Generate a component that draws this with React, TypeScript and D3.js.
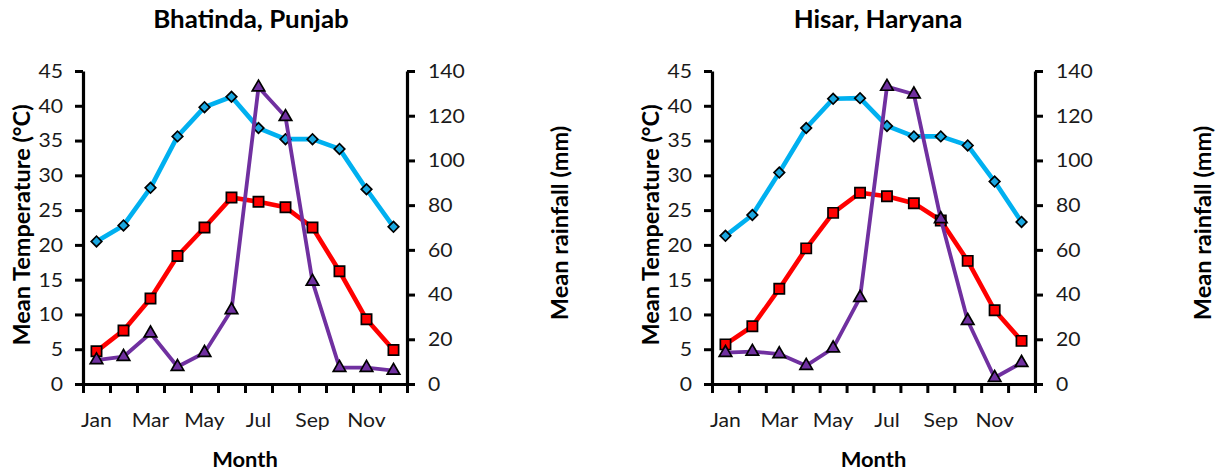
import React, { useEffect, useRef } from "react";
import * as d3 from "d3";

const months = ["Jan", "Feb", "Mar", "Apr", "May", "Jun", "Jul", "Aug", "Sep", "Oct", "Nov", "Dec"];
const tempTicks = [0, 5, 10, 15, 20, 25, 30, 35, 40, 45];
const rainTicks = [0, 20, 40, 60, 80, 100, 120, 140];

const bhatindaMax = [20.5, 22.8, 28.2, 35.6, 39.8, 41.3, 36.8, 35.2, 35.2, 33.8, 28.0, 22.6];
const bhatindaMin = [4.7, 7.7, 12.3, 18.4, 22.5, 26.8, 26.2, 25.4, 22.5, 16.2, 9.3, 4.9];
const bhatindaRain = [10.7, 12.2, 22.7, 7.7, 14.0, 33.1, 132.7, 119.5, 45.8, 7.3, 7.3, 6.0];

const hisarMax = [21.3, 24.3, 30.4, 36.8, 41.0, 41.1, 37.1, 35.6, 35.6, 34.3, 29.1, 23.3];
const hisarMin = [5.7, 8.3, 13.7, 19.5, 24.6, 27.5, 27.0, 26.0, 23.5, 17.7, 10.6, 6.2];
const hisarRain = [14.0, 14.5, 13.4, 8.2, 16.0, 38.6, 133.0, 129.6, 73.8, 28.3, 2.8, 9.5];

const FONT = "Lato, 'Open Sans', sans-serif";

type Panel = {
  title: string;
  x0: number;
  x1: number;
  titleX: number;
  leftTitleX: number;
  rightTitleX: number;
  maxT: number[];
  minT: number[];
  rain: number[];
};

const panels: Panel[] = [
  { title: "Bhatinda, Punjab", x0: 83, x1: 407, titleX: 251, leftTitleX: 30, rightTitleX: 568, maxT: bhatindaMax, minT: bhatindaMin, rain: bhatindaRain },
  { title: "Hisar, Haryana", x0: 712, x1: 1035, titleX: 878, leftTitleX: 659, rightTitleX: 1211, maxT: hisarMax, minT: hisarMin, rain: hisarRain },
];

const TOP = 71;
const BOTTOM = 384;
const TICK_FS = 20;
const TICK_SX = 1.06;

function stretchTicks(a: d3.Selection<SVGGElement, unknown, null, undefined>, sx: number) {
  a.selectAll<SVGTextElement, unknown>(".tick text").each(function () {
    const t = d3.select(this);
    const xv = +(t.attr("x") || 0);
    const yv = +(t.attr("y") || 0);
    t.attr("x", 0).attr("y", 0).attr("transform", `translate(${xv},${yv}) scale(${sx},1)`);
  });
}

function drawPanel(svg: d3.Selection<SVGSVGElement, unknown, null, undefined>, p: Panel) {
  const g = svg.append("g");
  const x = d3.scaleBand<string>().domain(months).range([p.x0, p.x1]);
  const xEdges = d3.scaleLinear().domain([0, 12]).range([p.x0, p.x1]);
  const yT = d3.scaleLinear().domain([0, 45]).range([BOTTOM, TOP]);
  const yR = d3.scaleLinear().domain([0, 140]).range([BOTTOM, TOP]);
  const cx = (i: number) => (x(months[i]) as number) + x.bandwidth() / 2;

  const la = g.append("g").attr("transform", `translate(${p.x0},0)`)
    .call(d3.axisLeft(yT).tickValues(tempTicks).tickSize(8).tickSizeOuter(0).tickPadding(12));
  const ra = g.append("g").attr("transform", `translate(${p.x1},0)`)
    .call(d3.axisRight(yR).tickValues(rainTicks).tickSize(8).tickSizeOuter(0).tickPadding(13));
  const ba = g.append("g").attr("transform", `translate(0,${BOTTOM})`)
    .call(d3.axisBottom(xEdges).tickValues(d3.range(0, 13)).tickSize(9).tickSizeOuter(0).tickFormat(() => ""));
  const bl = g.append("g").attr("transform", `translate(0,${BOTTOM})`)
    .call(d3.axisBottom(x).tickSize(0).tickPadding(29).tickFormat((d, i) => (i % 2 === 0 ? d : "")));
  bl.select(".domain").remove();

  [la, ra, ba].forEach((a) => {
    a.select(".domain").attr("stroke", "#000").attr("stroke-width", 3.2);
    a.selectAll(".tick line").attr("stroke", "#000").attr("stroke-width", 3);
  });
  [la, ra, bl].forEach((a) => {
    a.selectAll("text").attr("font-family", FONT).attr("font-size", TICK_FS).attr("fill", "#1a1a1a");
    stretchTicks(a as any, TICK_SX);
  });

  const line = (vals: number[], y: d3.ScaleLinear<number, number>) =>
    d3.line<number>().x((_, i) => cx(i)).y((d) => y(d))(vals);

  g.append("path").attr("d", line(p.maxT, yT)).attr("fill", "none").attr("stroke", "#00B0F0").attr("stroke-width", 4.6).attr("stroke-linejoin", "round");
  g.selectAll(".dia").data(p.maxT).join("path")
    .attr("d", d3.symbol().type(d3.symbolSquare).size(56)())
    .attr("transform", (d, i) => `translate(${cx(i)},${yT(d)}) rotate(45)`)
    .attr("fill", "#1AA7E0").attr("stroke", "#000").attr("stroke-width", 1.7);

  g.append("path").attr("d", line(p.minT, yT)).attr("fill", "none").attr("stroke", "#FF0000").attr("stroke-width", 4.6).attr("stroke-linejoin", "round");
  g.selectAll(".sq").data(p.minT).join("path")
    .attr("d", d3.symbol().type(d3.symbolSquare).size(105)())
    .attr("transform", (d, i) => `translate(${cx(i)},${yT(d)})`)
    .attr("fill", "#FF0000").attr("stroke", "#000").attr("stroke-width", 1.7);

  g.append("path").attr("d", line(p.rain, yR)).attr("fill", "none").attr("stroke", "#7030A0").attr("stroke-width", 3.8).attr("stroke-linejoin", "round");
  g.selectAll(".tri").data(p.rain).join("path")
    .attr("d", d3.symbol().type(d3.symbolTriangle).size(68)())
    .attr("transform", (d, i) => `translate(${cx(i)},${yR(d)})`)
    .attr("fill", "#7030A0").attr("stroke", "#000").attr("stroke-width", 1.7);

  g.append("text").attr("transform", `translate(${p.titleX},28) scale(1.08,1)`).attr("text-anchor", "middle")
    .attr("font-family", FONT).attr("font-weight", "bold").attr("font-size", 24).attr("fill", "#000").text(p.title);
  g.append("text").attr("transform", `translate(${(p.x0 + p.x1) / 2},467) scale(1.07,1)`).attr("text-anchor", "middle")
    .attr("font-family", FONT).attr("font-weight", "bold").attr("font-size", 20.5).attr("fill", "#000").text("Month");
  g.append("text").attr("transform", `translate(${p.leftTitleX},225) rotate(-90)`).attr("text-anchor", "middle")
    .attr("font-family", FONT).attr("font-weight", "bold").attr("font-size", 23.5).attr("fill", "#000").text("Mean Temperature (°C)");
  g.append("text").attr("transform", `translate(${p.rightTitleX},223) rotate(-90)`).attr("text-anchor", "middle")
    .attr("font-family", FONT).attr("font-weight", "bold").attr("font-size", 23.5).attr("fill", "#000").text("Mean rainfall (mm)");
}

export default function App() {
  const ref = useRef<SVGSVGElement | null>(null);
  useEffect(() => {
    if (!ref.current) return;
    const svg = d3.select(ref.current);
    svg.selectAll("*").remove();
    panels.forEach((p) => drawPanel(svg, p));
  }, []);
  return (
    <svg ref={ref} width={1226} height={475} style={{ position: "absolute", left: 0, top: 0, background: "#fff" }} />
  );
}
